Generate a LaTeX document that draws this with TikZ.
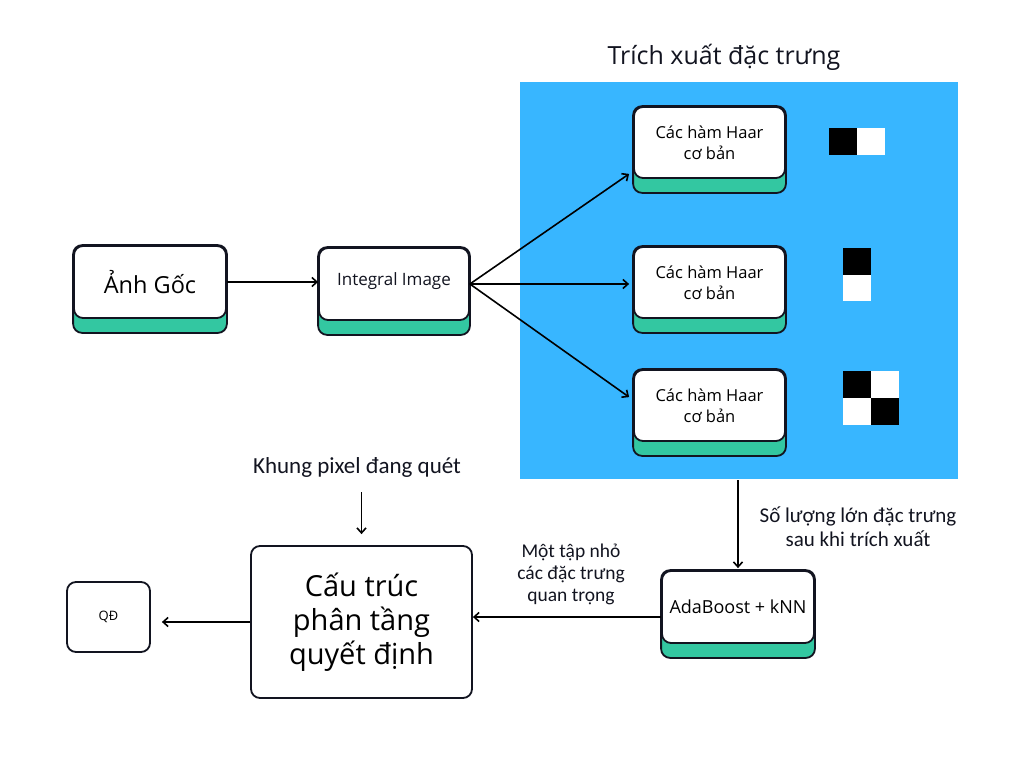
\documentclass[tikz,border=0pt]{standalone}
\usepackage{fontspec}
\setmainfont{Open Sans}
\newfontfamily\narrowfont{Carlito}
\usetikzlibrary{arrows.meta}
\definecolor{featblue}{HTML}{38B6FF}
\definecolor{shadowgreen}{HTML}{33C7A1}
\definecolor{edge}{HTML}{121420}
\pgfdeclarelayer{bg}
\pgfdeclarelayer{shadow}
\pgfsetlayers{bg,shadow,main}
\tikzset{
  boxnode/.style={draw=edge, line width=1.8pt, fill=white, rounded corners=9pt, align=center, inner sep=2pt},
  shadowfill/.style={draw=edge, line width=1.8pt, fill=shadowgreen, rounded corners=9pt},
  arr/.style={line width=1.6pt, -{Straight Barb[length=5pt,width=9pt]}},
  lbl/.style={align=center, text=edge},
  haartext/.style={font=\fontsize{16.5}{21}\selectfont},
}
\begin{document}
\begin{tikzpicture}[x=1pt,y=-1pt]
\useasboundingbox (0,0) rectangle (1024,768);
\begin{pgfonlayer}{bg}
\fill[white] (0,0) rectangle (1024,768);
\node[fill=featblue, minimum width=438pt, minimum height=397pt, inner sep=0pt] (feat) at (739,280.5) {};
\end{pgfonlayer}
\node[font=\fontsize{25}{30}\selectfont, text=edge] (title) at (724,57) {Trích xuất đặc trưng};

% boxes with shadow
\node[boxnode, minimum width=152pt, minimum height=72pt, font=\fontsize{23.5}{28}\selectfont] (anh) at (150,282) {Ảnh Gốc};
\node[boxnode, minimum width=150pt, minimum height=72pt] (integ) at (394,284) {};
\node[font=\fontsize{17}{20}\selectfont, text=edge] (integtext) at ([yshift=3pt]integ.center) {Integral Image};
\node[boxnode, minimum width=151pt, minimum height=71pt, haartext] (haar1) at (709.5,142.5) {Các hàm Haar\\cơ bản};
\node[boxnode, minimum width=151pt, minimum height=71pt, haartext] (haar2) at (709.5,282.5) {Các hàm Haar\\cơ bản};
\node[boxnode, minimum width=151pt, minimum height=71pt, haartext] (haar3) at (709.5,405.5) {Các hàm Haar\\cơ bản};
\node[boxnode, minimum width=152pt, minimum height=72pt, font=\fontsize{18}{22}\selectfont] (ada) at (738,607) {AdaBoost + kNN};

\begin{pgfonlayer}{shadow}
\foreach \b in {anh,integ,haar1,haar2,haar3,ada}{
  \draw[shadowfill] ([yshift=-14pt]\b.south west) rectangle (\b.north east);
}
\end{pgfonlayer}

% plain boxes
\node[boxnode, minimum width=221pt, minimum height=152pt, font=\fontsize{29}{34}\selectfont] (cau) at (361.5,622) {Cấu trúc\\phân tầng\\quyết định};
\node[boxnode, minimum width=83pt, minimum height=70pt, font=\fontsize{13}{16}\selectfont] (qd) at (108.5,617) {QĐ};

% Haar patterns
\fill[black] (829,128) rectangle (857,155);
\fill[white] (857,128) rectangle (885,155);
\fill[black] (843,248) rectangle (871,275);
\fill[white] (843,275) rectangle (871,301);
\fill[black] (843,371) rectangle (871,398);
\fill[white] (871,371) rectangle (899,398);
\fill[white] (843,398) rectangle (871,425);
\fill[black] (871,398) rectangle (899,425);

% labels
\node[lbl, font=\narrowfont\fontsize{23}{28}\selectfont] (khung) at (357,467) {Khung pixel đang quét};
\node[lbl, font=\narrowfont\fontsize{21}{24}\selectfont] (solg) at (858,527) {Số lượng lớn đặc trưng\\sau khi trích xuất};
\node[lbl, font=\narrowfont\fontsize{19.5}{22}\selectfont] (mot) at (571,574) {Một tập nhỏ\\các đặc trưng\\quan trọng};

% connectors
\draw[arr] (anh.east) -- (anh.east -| integ.west);
\draw[arr] (integ.east) -- ([shift={(-4pt,5pt)}]haar1.south west);
\draw[arr] (integ.east) -- ([xshift=-4pt]haar2.west |- integ.east);
\draw[arr] (integ.east) -- ([shift={(-4pt,-28pt)}]haar3.north west);
\draw[arr] ([yshift=-1pt]ada.north |- feat.south) -- ([yshift=2pt]ada.north);
\draw[arr] ([yshift=-10pt]ada.west) -- ([yshift=-10pt]ada.west -| cau.east);
\draw[arr] (cau.west) -- ([xshift=11pt]cau.west -| qd.east);
\draw[arr] (cau.north |- 0,492) -- ([yshift=11pt]cau.north);
\end{tikzpicture}
\end{document}
